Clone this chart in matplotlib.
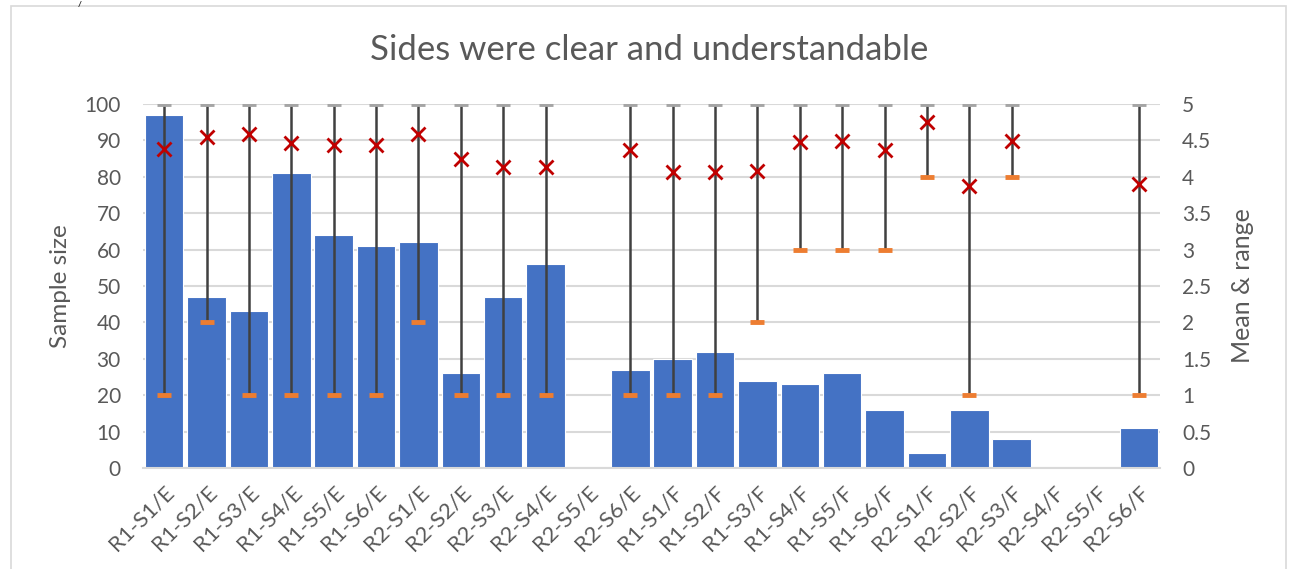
import numpy as np
import matplotlib
matplotlib.use("Agg")
import matplotlib.pyplot as plt
from matplotlib.patches import Rectangle

plt.rcParams["font.family"] = ["Lato", "DejaVu Sans"]

categories = ["R1-S1/E", "R1-S2/E", "R1-S3/E", "R1-S4/E", "R1-S5/E", "R1-S6/E",
              "R2-S1/E", "R2-S2/E", "R2-S3/E", "R2-S4/E", "R2-S5/E", "R2-S6/E",
              "R1-S1/F", "R1-S2/F", "R1-S3/F", "R1-S4/F", "R1-S5/F", "R1-S6/F",
              "R2-S1/F", "R2-S2/F", "R2-S3/F", "R2-S4/F", "R2-S5/F", "R2-S6/F"]
nan = np.nan
sample_size = [97, 47, 43, 81, 64, 61, 62, 26, 47, 56, 0, 27,
               30, 32, 24, 23, 26, 16, 4, 16, 8, 0, 0, 11]
mean = [4.38, 4.54, 4.59, 4.46, 4.44, 4.43, 4.59, 4.25, 4.14, 4.13, nan, 4.37,
        4.07, 4.06, 4.08, 4.48, 4.49, 4.37, 4.75, 3.875, 4.49, nan, nan, 3.90]
high = [5, 5, 5, 5, 5, 5, 5, 5, 5, 5, nan, 5,
        5, 5, 5, 5, 5, 5, 5, 5, 5, nan, nan, 5]
low = [1, 2, 1, 1, 1, 1, 2, 1, 1, 1, nan, 1,
       1, 1, 2, 3, 3, 3, 4, 1, 4, nan, nan, 1]

W, H = 1293, 569
fig = plt.figure(figsize=(W / 100, H / 100), dpi=100)

# chart frame (light gray border like the spreadsheet chart area)
fig.patches.append(Rectangle((11 / W, -0.05), 1275 / W, 1.05 - 6 / H,
                             transform=fig.transFigure, fill=False,
                             edgecolor="#D9D9D9", linewidth=1.2))
# fragment of text cut off above the chart
fig.text(78 / W, 1 - 1 / H, "/", fontsize=6, color="#202020",
         ha="left", va="top", fontweight="bold")

ax = fig.add_axes([143 / W, 1 - 468 / H, 1017 / W, 364 / H])
x = np.arange(len(categories))
ax.bar(x, sample_size, width=0.91, color="#4472C4", edgecolor="white",
       linewidth=0.8, zorder=2)
ax.set_xlim(-0.5, len(categories) - 0.5)
ax.set_ylim(0, 100)
ax.set_yticks(np.arange(0, 101, 10))
ax.grid(axis="y", color="#D9D9D9", linewidth=1.5, zorder=0)
ax.set_axisbelow(True)
for s in ["top", "right", "left"]:
    ax.spines[s].set_visible(False)
ax.spines["bottom"].set_color("#D9D9D9")
ax.spines["bottom"].set_linewidth(1.5)
ax.tick_params(axis="both", length=0, colors="#595959", labelsize=15)
ax.tick_params(axis="y", pad=16)
ax.set_xticks(x)
ax.set_xticklabels(categories, rotation=45, ha="right", rotation_mode="anchor",
                   fontsize=16)
ax.tick_params(axis="x", pad=10)
ax.set_ylabel("Sample size", fontsize=17.5, color="#595959", labelpad=10)

ax2 = ax.twinx()
ax2.set_ylim(0, 5)
ax2.set_yticks(np.arange(0, 5.01, 0.5))
ax2.set_yticklabels(["0", "0.5", "1", "1.5", "2", "2.5", "3", "3.5", "4", "4.5", "5"])
for s in ax2.spines.values():
    s.set_visible(False)
ax2.tick_params(axis="y", length=0, colors="#595959", labelsize=15, pad=16)
ax2.set_ylabel("Mean & range", fontsize=18, color="#595959", labelpad=14)

ax2.vlines(x, low, high, color="#404040", linewidth=1.8, zorder=3)
ax2.plot(x, high, linestyle="none", marker="_", markersize=10, mew=3.5,
         color="#A5A5A5", zorder=4)
ax2.plot(x, low, linestyle="none", marker="_", markersize=10, mew=3.5,
         color="#ED7D31", zorder=4)
ax2.plot(x, mean, linestyle="none", marker="x", markersize=10, mew=2,
         color="#C00000", zorder=5)

fig.text(649 / W, 1 - 50 / H, "Sides were clear and understandable",
         fontsize=25, color="#595959", ha="center", va="center")

fig.savefig("out.png", dpi=100)
